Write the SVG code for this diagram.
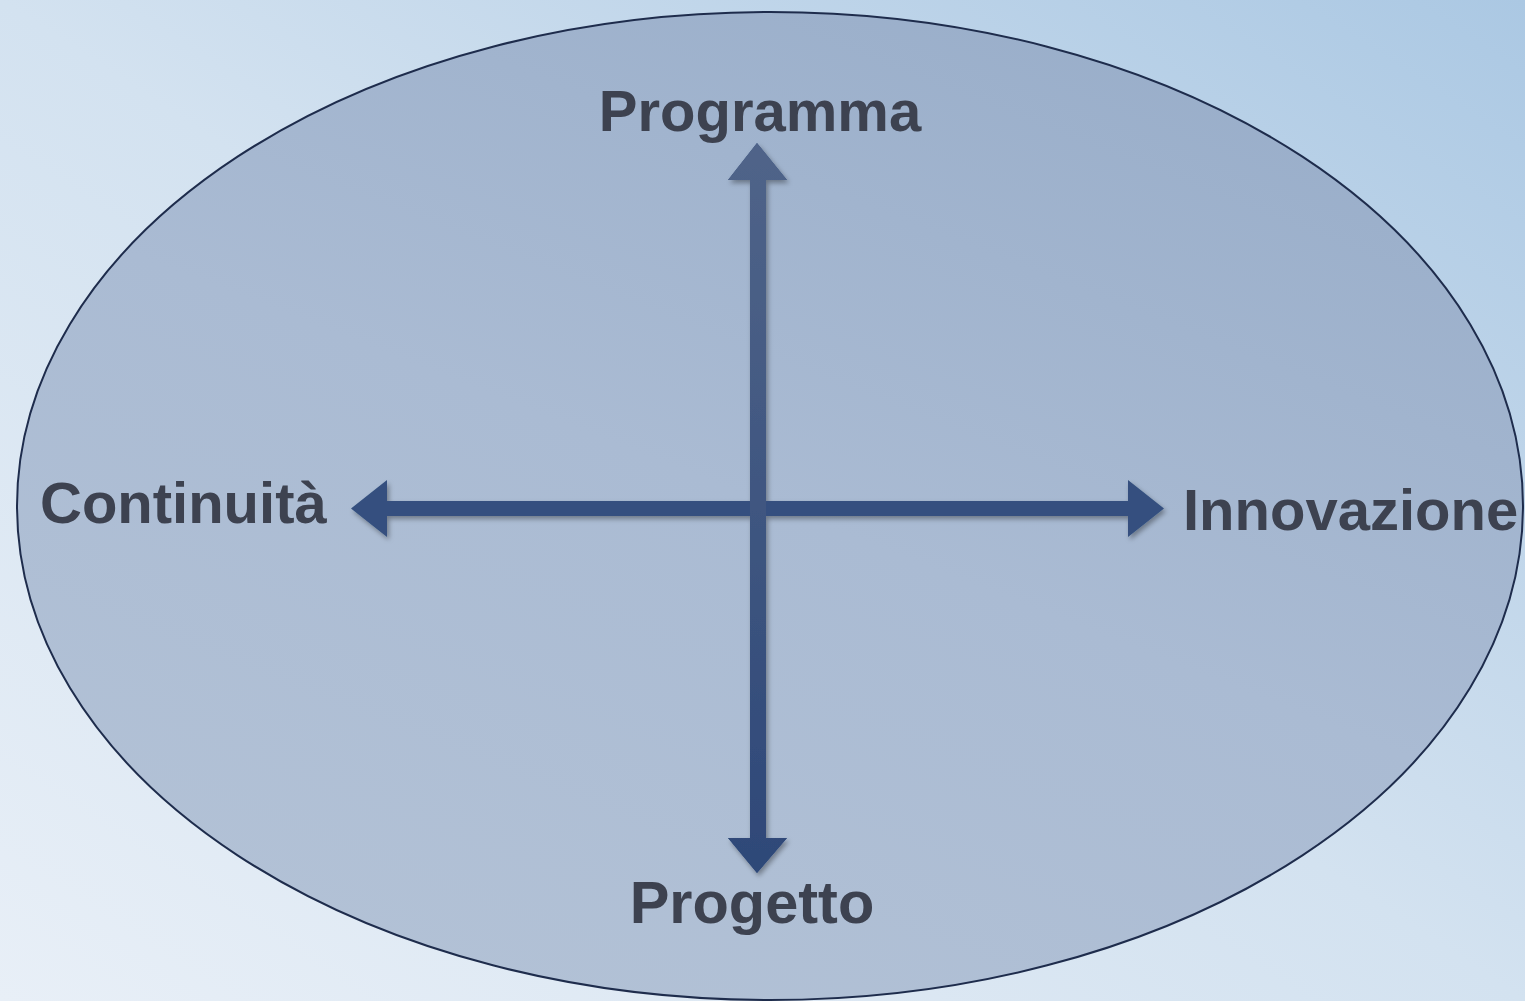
<svg xmlns="http://www.w3.org/2000/svg" width="1525" height="1001" viewBox="0 0 1525 1001">
<defs>
<linearGradient id="bg" x1="0" y1="1" x2="1" y2="0">
<stop offset="0" stop-color="#e8eff7"/>
<stop offset="0.5" stop-color="#d3e2f0"/>
<stop offset="1" stop-color="#abc8e3"/>
</linearGradient>
<linearGradient id="ell" x1="0.2" y1="1" x2="0.8" y2="0">
<stop offset="0" stop-color="#b3c2d6"/>
<stop offset="0.5" stop-color="#aabbd3"/>
<stop offset="1" stop-color="#98adc9"/>
</linearGradient>
<linearGradient id="vg" x1="0" y1="0" x2="0" y2="1">
<stop offset="0" stop-color="#506489"/>
<stop offset="1" stop-color="#2e4878"/>
</linearGradient>
<filter id="sh" x="-20%" y="-20%" width="140%" height="140%">
<feDropShadow dx="2" dy="3" stdDeviation="2.5" flood-color="#000" flood-opacity="0.35"/>
</filter>
<style>
.lbl{font-family:"Liberation Sans",Arial,sans-serif;font-weight:bold;font-size:58px;fill:#3d4250}
</style>
</defs>
<rect width="1525" height="1001" fill="url(#bg)"/>
<g id="ellipse">
<ellipse cx="770" cy="506" rx="753" ry="494" fill="url(#ell)" stroke="#1e2c4c" stroke-width="2"/>
</g>
<g id="connectors" filter="url(#sh)">
<path d="M750,180 L728,180 L757,143 L787,180 L766,180 L766,501 L1128,501 L1128,480 L1164,508.5 L1128,537 L1128,516 L766,516 L766,838 L787,838 L757,873 L728,838 L750,838 L750,516 L387,516 L387,537 L351,508.5 L387,480 L387,501 L750,501 Z" fill="#34507f"/>
<path d="M750,180 L728,180 L757,143 L787,180 L766,180 L766,838 L787,838 L757,873 L728,838 L750,838 Z" fill="url(#vg)"/>
</g>
<g id="programma"><text class="lbl" x="760" y="131" text-anchor="middle">Programma</text></g>
<g id="continuita"><text class="lbl" x="40" y="523">Continuità</text></g>
<g id="innovazione"><text class="lbl" x="1183" y="530">Innovazione</text></g>
<g id="progetto"><text class="lbl" x="752" y="923" text-anchor="middle" style="font-size:59.5px">Progetto</text></g>
</svg>
